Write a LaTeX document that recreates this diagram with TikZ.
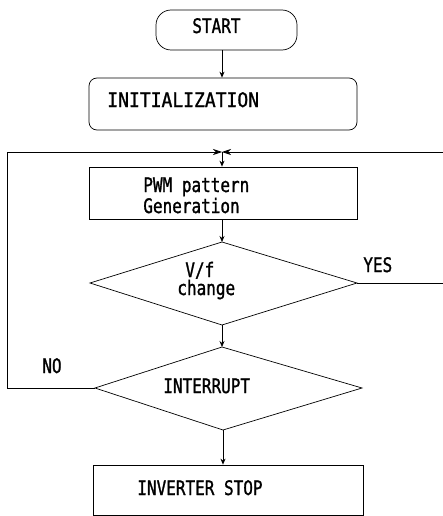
\documentclass[tikz,border=0pt]{standalone}
\usepackage{fontspec}
\usetikzlibrary{arrows.meta,calc}
\newfontfamily\tf[FakeStretch=0.8,FakeBold=1.2]{DejaVu Sans Mono}
\newfontfamily\tfw[FakeStretch=0.9,FakeBold=1.2]{DejaVu Sans Mono}
\begin{document}
\begin{tikzpicture}[x=1pt,y=-1pt,line width=0.7pt,
  txt/.style={anchor=base west,inner sep=0pt,font=\tf\fontsize{20}{21}\selectfont},
  txtw/.style={anchor=base west,inner sep=0pt,font=\tfw\fontsize{20}{21}\selectfont},
  boxnode/.style={draw,rectangle,inner sep=0pt},
  arr/.style={-{Stealth[length=6pt,width=5pt]}},
  jarr/.style={-{Stealth[length=9pt,width=6pt]}}]
\useasboundingbox (0,0) rectangle (443,516);
% boxes
\node[boxnode,rounded corners=15pt,minimum width=141pt,minimum height=40pt] (start) at (226.5,30) {};
\node[boxnode,rounded corners=8pt,minimum width=268pt,minimum height=52pt] (init) at (223,104) {};
\node[boxnode,minimum width=268pt,minimum height=52pt] (pwm) at (223,193) {};
\node[boxnode,minimum width=270pt,minimum height=50pt] (stop) at (228,490) {};
% diamonds
\coordinate (vft) at (222,242);
\coordinate (vfr) at (357,283);
\coordinate (vfb) at (222,325);
\coordinate (vfl) at (90,283);
\draw (vft) -- (vfr) -- (vfb) -- (vfl) -- cycle;
\coordinate (it) at (222,347);
\coordinate (ir) at (362,388);
\coordinate (ib) at (223,430);
\coordinate (il) at (95,388);
\draw (it) -- (ir) -- (ib) -- (il) -- cycle;
% texts
\node[txt] (tstart) at (192,33) {START};
\node[txtw] (tinit) at (107,107) {INITIALIZATION};
\node[txt] (tpwm1) at (143,192) {PWM pattern};
\node[txt] (tpwm2) at (143,213) {Generation};
\node[txt] (tvf1) at (185,277) {V/f};
\node[txt] (tvf2) at (177,295) {change};
\node[txt] (tint) at (163,393) {INTERRUPT};
\node[txt] (tstop) at (137,495) {INVERTER STOP};
\node[txt] (tyes) at (363,272) {YES};
\node[txt] (tno) at (42,373) {NO};
% loop coordinates
\coordinate (jn) at (222,152);
\coordinate (lb) at (7,388);
\coordinate (lt) at (7,152);
\coordinate (ry) at (443,283);
\coordinate (rt) at (443,152);
% connectors
\draw[arr] (start.south -| jn) -- (init.north -| jn);
\draw[arr] (jn) -- (pwm.north -| jn);
\draw[arr] (pwm.south -| vft) -- (vft);
\draw[arr] (vfb) -- (it);
\draw[arr] (ib) -- (stop.north -| ib);
\draw[jarr] (il) -- (lb) -- (lt) -- (jn);
\draw (vfr) -- (ry);
\draw[jarr] (rt) -- (jn);
\end{tikzpicture}
\end{document}
